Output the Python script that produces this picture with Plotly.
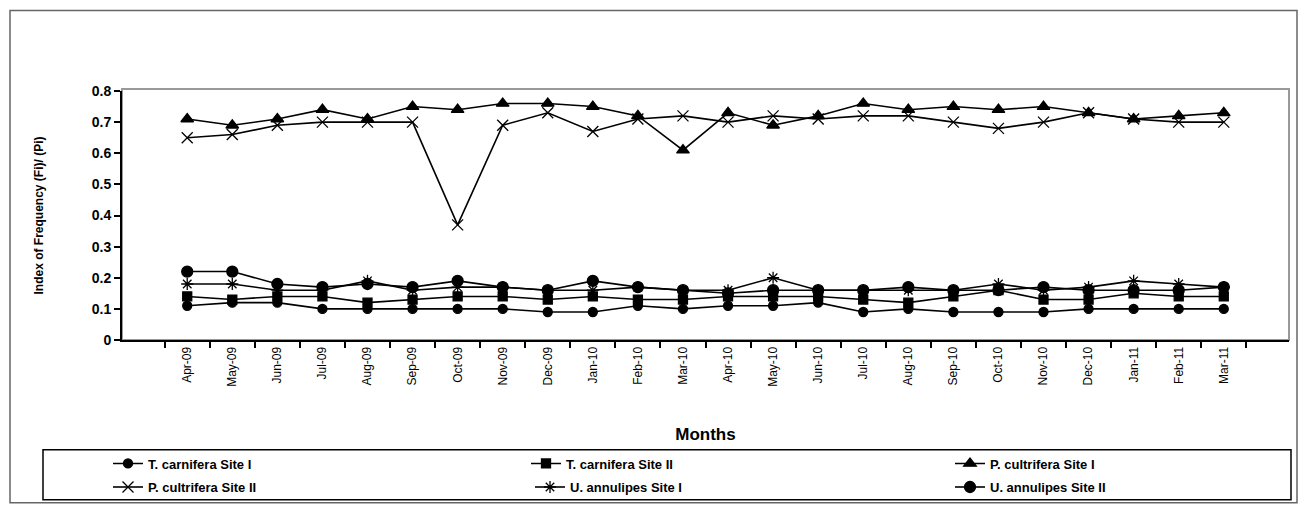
import plotly.graph_objects as go

months = ["Apr-09", "May-09", "Jun-09", "Jul-09", "Aug-09", "Sep-09", "Oct-09", "Nov-09",
          "Dec-09", "Jan-10", "Feb-10", "Mar-10", "Apr-10", "May-10", "Jun-10", "Jul-10",
          "Aug-10", "Sep-10", "Oct-10", "Nov-10", "Dec-10", "Jan-11", "Feb-11", "Mar-11"]

t_carn_site1 = [0.11, 0.12, 0.12, 0.10, 0.10, 0.10, 0.10, 0.10, 0.09, 0.09, 0.11, 0.10,
                0.11, 0.11, 0.12, 0.09, 0.10, 0.09, 0.09, 0.09, 0.10, 0.10, 0.10, 0.10]
t_carn_site2 = [0.14, 0.13, 0.14, 0.14, 0.12, 0.13, 0.14, 0.14, 0.13, 0.14, 0.13, 0.13,
                0.14, 0.14, 0.14, 0.13, 0.12, 0.14, 0.16, 0.13, 0.13, 0.15, 0.14, 0.14]
p_cult_site1 = [0.71, 0.69, 0.71, 0.74, 0.71, 0.75, 0.74, 0.76, 0.76, 0.75, 0.72, 0.61,
                0.73, 0.69, 0.72, 0.76, 0.74, 0.75, 0.74, 0.75, 0.73, 0.71, 0.72, 0.73]
p_cult_site2 = [0.65, 0.66, 0.69, 0.70, 0.70, 0.70, 0.37, 0.69, 0.73, 0.67, 0.71, 0.72,
                0.70, 0.72, 0.71, 0.72, 0.72, 0.70, 0.68, 0.70, 0.73, 0.71, 0.70, 0.70]
u_ann_site1 = [0.18, 0.18, 0.16, 0.16, 0.19, 0.16, 0.17, 0.17, 0.16, 0.16, 0.17, 0.16,
               0.16, 0.20, 0.16, 0.16, 0.16, 0.16, 0.18, 0.16, 0.17, 0.19, 0.18, 0.17]
u_ann_site2 = [0.22, 0.22, 0.18, 0.17, 0.18, 0.17, 0.19, 0.17, 0.16, 0.19, 0.17, 0.16,
               0.15, 0.16, 0.16, 0.16, 0.17, 0.16, 0.16, 0.17, 0.16, 0.16, 0.16, 0.17]

y_ticks = [0, 0.1, 0.2, 0.3, 0.4, 0.5, 0.6, 0.7, 0.8]

# (name, values, marker symbol, marker size, legend id, legend position in reference px)
series = [
    ("T. carnifera Site I", t_carn_site1, "circle", 9, "legend", (108, 471)),
    ("T. carnifera Site II", t_carn_site2, "square", 9, "legend2", (526, 471)),
    ("P. cultrifera Site I", p_cult_site1, "triangle-up", 11, "legend3", (950, 471)),
    ("P. cultrifera Site II", p_cult_site2, "x-thin-open", 11, "legend4", (108, 495)),
    ("U. annulipes Site I", u_ann_site1, "asterisk-open", 10, "legend5", (530, 495)),
    ("U. annulipes Site II", u_ann_site2, "circle", 11, "legend6", (950, 495)),
]

# the page body has an 8px margin: reference pixel coords are shifted by OFF
OFF = 8
W, H = 1306 - 2 * OFF, 519 - 2 * OFF
L, R, T, B = 122 - OFF, 1289 - OFF, 91 - OFF, 345 - OFF
pw, ph = R - L, B - T

def px_x(x_ref):
    return (x_ref - OFF - L) / pw

def px_y(y_ref):
    return (B - (y_ref - OFF)) / ph

fig = go.Figure()
legends = {}
for name, vals, sym, size, lg, (lx, ly) in series:
    fig.add_trace(go.Scatter(
        x=months, y=vals, name=name, mode="lines+markers", legend=lg,
        line=dict(color="black", width=1.6),
        marker=dict(symbol=sym, size=size, color="black",
                    line=dict(color="black", width=1.3)),
    ))
    legends[lg] = dict(
        x=px_x(lx), y=px_y(ly), xanchor="left", yanchor="middle",
        orientation="h",
        font=dict(size=13, family="Liberation Sans, Arial, sans-serif", weight="bold"),
        bgcolor="rgba(0,0,0,0)", borderwidth=0, itemwidth=30,
    )

fig.update_layout(
    width=W, height=H,
    margin=dict(l=L, r=W - R, t=T, b=H - B),
    paper_bgcolor="white", plot_bgcolor="white",
    font=dict(family="Liberation Sans, Arial, sans-serif", color="black"),
    showlegend=True,
    xaxis=dict(
        type="category", categoryorder="array", categoryarray=months,
        tickangle=-90, tickfont=dict(size=12),
        ticks="outside", ticklen=6, tickwidth=2, tickcolor="black",
        tickson="boundaries",
        showline=True, linecolor="black", linewidth=2,
        showgrid=False, zeroline=False,
        title=dict(text="<b>Months</b>", font=dict(size=17), standoff=42),
        automargin=False,
    ),
    yaxis=dict(
        range=[0, 0.8], tickvals=y_ticks, ticktext=[f"{v:g}" for v in y_ticks],
        tickfont=dict(size=14, weight="bold"),
        ticks="outside", ticklen=6, tickwidth=2, tickcolor="black",
        showline=True, linecolor="black", linewidth=2,
        showgrid=False, zeroline=False,
        title=dict(text="<b>Index of Frequency (Fi)/ (Pi)</b>", font=dict(size=12), standoff=46),
        automargin=False,
    ),
    shapes=[
        # plot area border (grey)
        dict(type="rect", xref="paper", yref="paper", x0=0, x1=1, y0=0, y1=px_y(89),
             line=dict(color="#999999", width=2), layer="below"),
        # legend frame
        dict(type="rect", xref="paper", yref="paper", x0=px_x(43), x1=px_x(1291),
             y0=px_y(457), y1=px_y(508), line=dict(color="black", width=1.5)),
        # outer chart frame
        dict(type="rect", xref="paper", yref="paper", x0=px_x(10), x1=px_x(1297),
             y0=px_y(9), y1=px_y(511), line=dict(color="#666666", width=1.5)),
    ],
)
fig.update_layout(**legends)

fig.write_html("out.html")
